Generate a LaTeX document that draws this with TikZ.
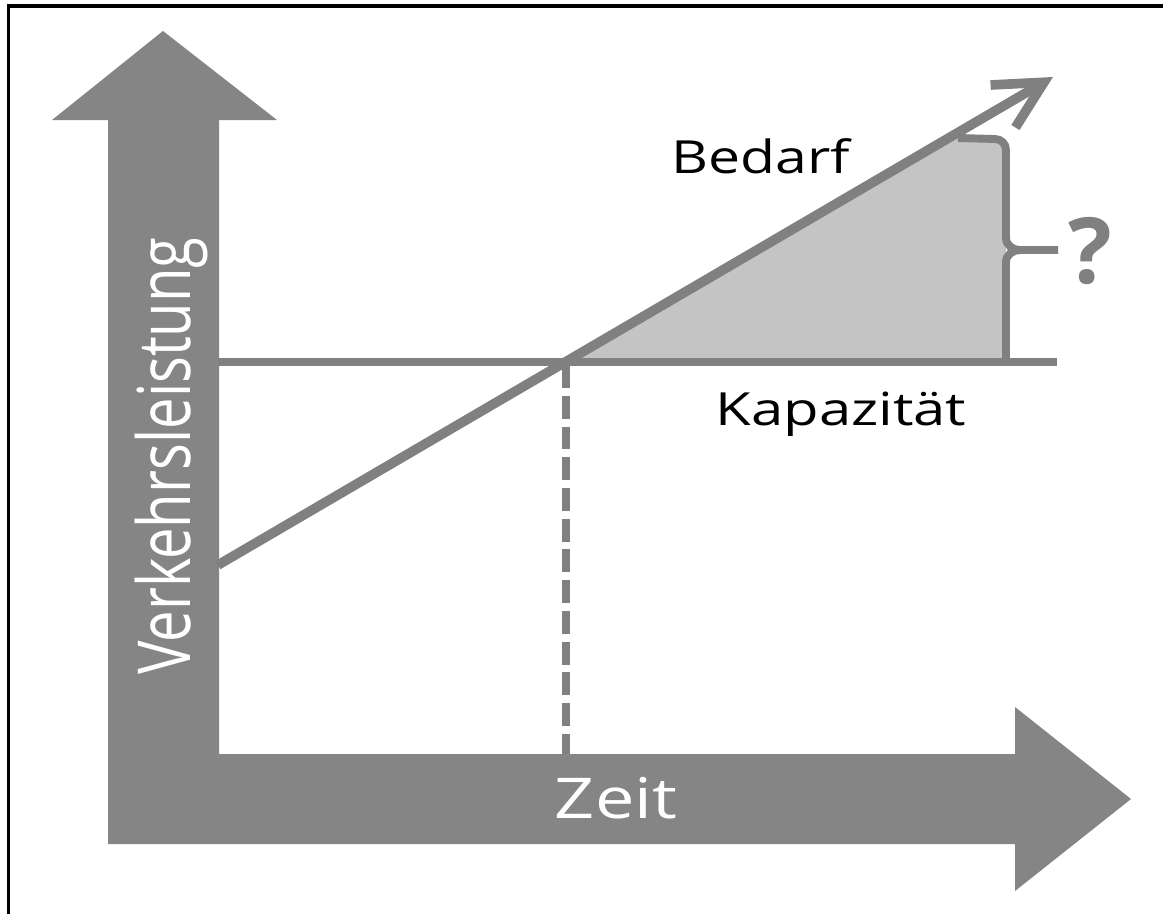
\documentclass[tikz,border=0pt]{standalone}
\usepackage{graphicx}
\usepackage{fontspec}
\setmainfont{Open Sans}
\usetikzlibrary{arrows.meta}
\definecolor{axisgray}{RGB}{133,133,133}
\definecolor{linegray}{RGB}{128,128,128}
\definecolor{gapgray}{RGB}{196,196,196}
\begin{document}
\begin{tikzpicture}[x=0.02cm,y=-0.02cm,
  bigarrow/.style={fill=axisgray},
  graphline/.style={draw=linegray,line width=5pt},
  bracket/.style={draw=linegray,line width=4.5pt},
  lbl/.style={inner sep=0pt,anchor=base,font=\fontsize{26}{30}\selectfont},
  axlbl/.style={inner sep=0pt,anchor=base,text=white}]
\useasboundingbox (0,0) rectangle (1163,914);
\fill[white] (0,0) rectangle (1163,914);
% frame
\draw[line width=2pt] (8.5,914) -- (8.5,6) -- (1163,6);
% axes
\fill[bigarrow] (108,844) -- (108,120) -- (52,120) -- (163,31) -- (277,120) -- (219,120)
  -- (219,754) -- (1015,754) -- (1015,707) -- (1131,799) -- (1015,891) -- (1015,844) -- cycle;
\node[axlbl,rotate=90,font=\fontsize{32}{36}\selectfont] (vl) at (190,456) {\scalebox{1}[1.3]{Verkehrsleistung}};
\node[axlbl,font=\fontsize{32}{36}\selectfont] (zeit) at (616,818) {\scalebox{1.25}[1]{Zeit}};
% points
\coordinate (start) at (218,565);
\coordinate (cross) at (566,362);
\coordinate (tip) at (1053,77);
\coordinate (kapL) at (218,362);
\coordinate (kapR) at (1057,362);
\coordinate (foot) at (566,754);
% gap
\fill[gapgray] (cross) -- (958,133) -- (995,139) to[out=0,in=90] (1006,150) -- (1006,362) -- cycle;
\draw[bracket] (958,138) -- (995,139) to[out=0,in=90] (1006,150) -- (1006,238)
  to[out=-90,in=180] (1020,250) -- (1058,250);
\draw[bracket] (1020,250) to[out=180,in=90] (1006,262) -- (1006,362);
% lines
\draw[graphline] (kapL) -- (kapR);
\draw[graphline,dash pattern=on 13pt off 4.5pt] (566,365) -- (foot);
\draw[graphline,line width=5.5pt,-{Straight Barb[length=27pt,width=28pt]}] (start) -- (tip);
% labels
\node[lbl] (bedarf) at (761,173) {\scalebox{1.25}[1]{Bedarf}};
\node[lbl] (kap) at (841,425) {\scalebox{1.27}[1]{Kapazität}};
\node[lbl,text=linegray,font=\fontsize{52}{60}\bfseries] (frage) at (1090,283) {?};
\end{tikzpicture}
\end{document}
